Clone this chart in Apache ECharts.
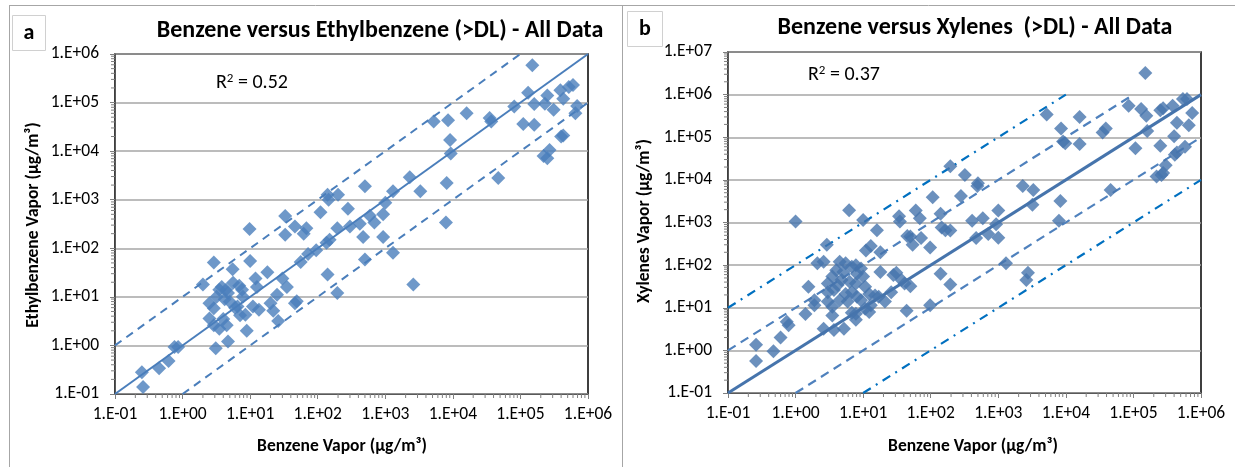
<!DOCTYPE html>
<html>
<head>
<meta charset="utf-8">
<script src="https://cdn.jsdelivr.net/npm/echarts@6/dist/echarts.min.js"></script>
<style>
html,body{margin:0;padding:0;background:#fff;}
#chart{width:1235px;height:467px;}
</style>
</head>
<body>
<div id="chart"></div>
<script>
// panel a: benzene (x) vs ethylbenzene (y), ug/m3
var benzeneA = [1.5e5,1.3e5,2.5e5,3.9e5,5.2e5,6.0e5,4.3e5,2.3e5,1.6e5,8.1e4,3.1e5,6.9e5,6.5e5,1.1e5,1.6e5,4.0e5,4.3e5,2.7e5,2.2e5,2.5e5,
  4.7e4,3.5e4,3.7e4,1.6e4,5.2e3,8.5e3,9.1e3,9.3e3,8.1e3,7.9e3,2.3e3,3.3e3,1.3e3,1000,930,930,1.3e3,2.6e3,
  500,590,690,420,300,470,500,280,195,200,140,145,110,150,135,95,72,56,140,195,68,62,46,33,33,
  9.8,10,5.5,2.0,2.9,2.5,2.9,3.8,4.4,4.7,3.2,5.6,6.9,7.6,6.5,8.5,7.8,12,12.6,13.5,11,18,20,22,30,35,25,26,46,49,
  8.9,4.7,3.1,2.9,3.5,4.5,2.5,0.76,0.86,0.62,0.45,0.25,0.26,3.5,4.2,5.0,6.0,7.1,4.0];
var ethylA = [5.9e5,1.6e5,1.4e5,1.8e5,2.1e5,2.3e5,1.2e5,9.5e4,9.3e4,8.3e4,7.1e4,8.5e4,6.0e4,3.6e4,3.5e4,2.0e4,2.1e4,1.05e4,7.9e3,7.1e3,
  2.8e3,4.8e4,4.1e4,6.0e4,4.1e4,4.3e4,1.7e4,8.9e3,2.2e3,340,2.9e3,1.5e3,1.5e3,870,500,170,81,18,
  1.9e3,470,340,320,280,170,59,650,260,1.26e3,1.26e3,1.0e3,550,150,130,91,76,52,29,12,260,200,280,460,190,
  250,55,37,18,51,7.4,5.8,16,14,12,10,19.5,17,14,6.3,4.3,10,24,16,5.4,6.3,32,7.4,5.2,24,16,11,3.2,7.4,8.1,
  2.0,1.2,0.87,2.6,2.2,2.6,3.6,0.93,0.93,0.48,0.34,0.28,0.14,14,8.9,7.9,6.0,4.2,3.5];

// panel b: benzene (x) vs xylenes (y), ug/m3
var benzeneB = [1.5e5,8.5e4,1.3e5,1.55e5,2.5e5,2.75e5,3.8e5,5.4e5,6.2e5,7.4e5,4.4e5,6.6e5,1.6e5,1.07e5,2.5e5,4.0e5,5.8e5,4.1e5,4.4e5,
  3.0e5,2.6e5,2.2e5,2.75e5,4.6e4,3.5e4,3.9e4,1.6e4,1.6e4,8.5e3,9.1e3,9.8e3,5.2e3,8.3e3,7.9e3,2.3e3,3.3e3,3.2e3,2.75e3,2.6e3,1.3e3,
  1000,930,1000,710,590,410,490,500,470,320,280,195,195,195,140,145,165,140,107,98,98,72,60,69,50,54,45,34,35,31,37,41,44,50,28,26,
  18,16,18,13,11,10,6.2,1.0,2.9,2.1,2.6,1.55,1.9,1.9,1.4,2.6,3.7,5.2,7.8,6.8,0.74,0.79,0.60,0.47,0.26,0.26,
  4.5,5.5,6.8,7.8,9.3,4.0,5.1,8.1,10,3.5,4.8,6.3,7.8,10.7,3.7,5.5,6.8,8.1,9.3,4.5,3.0,3.5,5.9,12.3,15,17,21,13,10.7,3.0,4.2,3.0,3.5,7.8,12.3];
var xylenesB = [3.2e6,5.5e5,4.6e5,3.2e5,4.3e5,4.8e5,5.5e5,7.9e5,7.9e5,3.7e5,2.2e5,1.9e5,1.4e5,5.5e4,6.3e4,1.05e5,6.0e4,3.9e4,4.4e4,
  2.2e4,1.3e4,1.2e4,1.45e4,5.8e3,1.3e5,1.6e5,3.0e5,6.9e4,1.6e5,7.9e4,7.2e4,3.4e5,3.2e3,1.1e3,7.2e3,5.8e3,2.6e3,66,45,110,
  1.9e3,910,440,540,1.26e3,1.1e3,7.2e3,8.3e3,430,1.3e4,4.2e3,2.1e4,650,35,1.6e3,760,660,63,3.9e3,260,11.5,430,1.9e3,1.26e3,470,300,480,1.4e3,1.05e3,66,45,37,8.5,32,59,23,
  69,660,200,280,220,1.15e3,1.95e3,1.05e3,300,110,120,31,15,11.5,7.1,3.2,3.0,3.2,5.2,7.6,4.7,3.9,2.0,0.95,1.35,0.56,
  120,110,91,100,83,76,69,63,54,54,45,41,37,31,26,21,23,18,15,15,14,10.5,14,21,19.5,18,14,11.5,9.5,23,34,37,6.6,7.2,7.9];

var r2Labels = ['0.52', '0.37'];
var titles = ['Benzene versus Ethylbenzene (>DL) - All Data', 'Benzene versus Xylenes  (>DL) - All Data'];
var yTitles = ['Ethylbenzene Vapor (\u00b5g/m\u00b3)', 'Xylenes Vapor (\u00b5g/m\u00b3)'];
var xTitle = 'Benzene Vapor (\u00b5g/m\u00b3)';

// reference lines [from, to] in data units
var oneToOne = [[0.1, 0.1], [1e6, 1e6]];
var tenAbove = [[0.1, 1], [1e5, 1e6]];
var tenBelow = [[1, 0.1], [1e6, 1e5]];
var hundredAbove = [[0.1, 10], [1e4, 1e6]];
var hundredBelow = [[10, 0.1], [1e6, 1e4]];

var FONT = 'Carlito, Lato, sans-serif';
var MARK = '#4A7EBB';
var MARKB = '#4674AC';

function pairs(xs, ys) {
    var out = [];
    for (var i = 0; i < xs.length; i++) out.push([xs[i], ys[i]]);
    return out;
}
function expLabel(v) {
    var e = Math.round(Math.log10(v));
    var s = Math.abs(e) < 10 ? '0' + Math.abs(e) : '' + Math.abs(e);
    return '1.E' + (e < 0 ? '-' : '+') + s;
}
// log minor tick positions (2..9 x 10^e) for the axis decoration
function minorVals(lo, hi) {
    var v = [];
    for (var e = lo; e < hi; e++) for (var k = 2; k <= 9; k++) v.push(k * Math.pow(10, e));
    return v;
}
function minorSeries(idx, axis, lo, hi, other) {
    var data = minorVals(lo, hi).map(function (v) { return axis === 'x' ? [v, other] : [other, v]; });
    return {
        type: 'custom', xAxisIndex: idx, yAxisIndex: idx, silent: true, clip: false, z: 5,
        data: data,
        renderItem: function (params, api) {
            var p = api.coord([api.value(0), api.value(1)]);
            var shape = axis === 'x' ? {x1: p[0], y1: p[1], x2: p[0], y2: p[1] + 4}
                                     : {x1: p[0] - 4, y1: p[1], x2: p[0], y2: p[1]};
            return {type: 'line', shape: shape, style: {stroke: '#7F7F7F', lineWidth: 1}};
        }
    };
}
function refLine(idx, data, color, width, dash) {
    return {
        type: 'line', xAxisIndex: idx, yAxisIndex: idx, data: data, showSymbol: false, silent: true, z: 3,
        lineStyle: {color: color, width: width, type: dash}
    };
}
function xAxisCfg(idx) {
    return {
        type: 'log', logBase: 10, gridIndex: idx, min: 0.1, max: 1e6,
        axisLine: {onZero: false, lineStyle: {color: '#595959', width: 1}},
        axisTick: {show: true, length: 5, lineStyle: {color: '#7F7F7F'}},
        axisLabel: {formatter: expLabel, color: '#000', fontFamily: FONT, fontSize: 17.5, margin: 12},
        splitLine: {show: false}
    };
}
function yAxisCfg(idx, max) {
    return {
        type: 'log', logBase: 10, gridIndex: idx, min: 0.1, max: max,
        axisLine: {onZero: false, lineStyle: {color: '#595959', width: 1}},
        axisTick: {show: true, length: 5, lineStyle: {color: '#7F7F7F'}},
        axisLabel: {formatter: expLabel, color: '#000', fontFamily: FONT, fontSize: 17.5, margin: 16},
        splitLine: {show: true, lineStyle: {color: '#A6A6A6', width: 1.5}}
    };
}
function txt(x, y, text, size, bold, extra) {
    var o = {type: 'text', x: x, y: y, z: 20, style: {text: text, fill: '#000', font: (bold ? 'bold ' : '') + size + 'px ' + FONT, align: 'center', verticalAlign: 'middle'}};
    if (extra) for (var k in extra) o[k] = extra[k];
    return o;
}

var chart = echarts.init(document.getElementById('chart'));
chart.setOption({
    animation: false,
    grid: [
        {left: 115, top: 54, width: 473, height: 340, show: true, borderColor: '#000', borderWidth: 1.5, backgroundColor: '#fff'},
        {left: 728, top: 52, width: 473, height: 341, show: true, borderColor: '#000', borderWidth: 1.5, backgroundColor: '#fff'}
    ],
    xAxis: [xAxisCfg(0), xAxisCfg(1)],
    yAxis: [yAxisCfg(0, 1e6), yAxisCfg(1, 1e7)],
    series: [
        refLine(0, oneToOne, MARK, 2, 'solid'),
        refLine(0, tenAbove, MARK, 2, [8, 6]),
        refLine(0, tenBelow, MARK, 2, [8, 6]),
        {type: 'scatter', xAxisIndex: 0, yAxisIndex: 0, data: pairs(benzeneA, ethylA), symbol: 'diamond', symbolSize: 14,
         itemStyle: {color: MARK}, z: 4},
        refLine(1, oneToOne, MARKB, 3, 'solid'),
        refLine(1, tenAbove, '#4F81BD', 2.2, [9, 6]),
        refLine(1, tenBelow, '#4F81BD', 2.2, [9, 6]),
        refLine(1, hundredAbove, '#0070C0', 2.2, [9, 6, 2, 6]),
        refLine(1, hundredBelow, '#0070C0', 2.2, [9, 6, 2, 6]),
        {type: 'scatter', xAxisIndex: 1, yAxisIndex: 1, data: pairs(benzeneB, xylenesB), symbol: 'diamond', symbolSize: 14,
         itemStyle: {color: MARKB}, z: 4},
        minorSeries(0, 'x', -1, 6, 0.1),
        minorSeries(0, 'y', -1, 6, 0.1),
        minorSeries(1, 'x', -1, 6, 0.1),
        minorSeries(1, 'y', -1, 7, 0.1)
    ],
    graphic: [
        // outer frame and panel divider
        {type: 'line', shape: {x1: 9, y1: 5.5, x2: 1235, y2: 5.5}, style: {stroke: '#A6A6A6', lineWidth: 1}},
        {type: 'line', shape: {x1: 9.5, y1: 5, x2: 9.5, y2: 467}, style: {stroke: '#A6A6A6', lineWidth: 1}},
        {type: 'line', shape: {x1: 622.5, y1: 5, x2: 622.5, y2: 467}, style: {stroke: '#A6A6A6', lineWidth: 1}},
        // panel letters
        {type: 'rect', shape: {x: 12.5, y: 15.5, width: 33, height: 35}, style: {fill: '#fff', stroke: '#D0D0D0', lineWidth: 1}},
        txt(29, 33, 'a', 22, true),
        {type: 'rect', shape: {x: 627.5, y: 11.5, width: 35, height: 35}, style: {fill: '#fff', stroke: '#D0D0D0', lineWidth: 1}},
        txt(645, 29, 'b', 22, true),
        // titles
        txt(380, 31, titles[0], 24, true),
        txt(975, 28, titles[1], 24, true),
        // axis titles
        txt(342, 447, xTitle, 17.5, true),
        txt(973, 447, xTitle, 17.5, true),
        txt(34, 225, yTitles[0], 17.5, true, {rotation: Math.PI / 2}),
        txt(645, 221, yTitles[1], 17.5, true, {rotation: Math.PI / 2}),
        // R squared
        {type: 'text', x: 216, y: 83, z: 20, style: {
            text: 'R{s|2} = ' + r2Labels[0], font: '20px ' + FONT, fill: '#000', verticalAlign: 'middle',
            rich: {s: {fontSize: 13, fontFamily: FONT, verticalAlign: 'top', padding: [0, 0, 9, 0]}}}},
        {type: 'text', x: 808, y: 75, z: 20, style: {
            text: 'R{s|2} = ' + r2Labels[1], font: '20px ' + FONT, fill: '#000', verticalAlign: 'middle',
            rich: {s: {fontSize: 13, fontFamily: FONT, verticalAlign: 'top', padding: [0, 0, 9, 0]}}}}
    ]
});
</script>
</body>
</html>
